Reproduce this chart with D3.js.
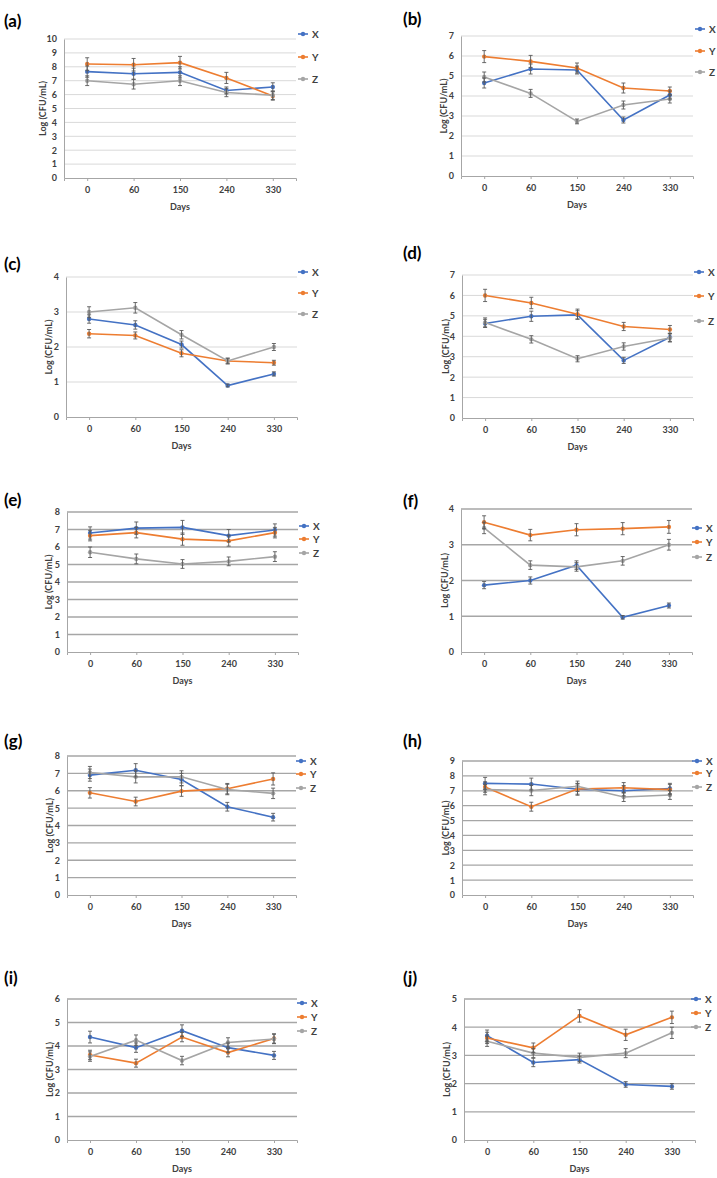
<!DOCTYPE html>
<html><head><meta charset="utf-8">
<script src="https://cdn.jsdelivr.net/npm/d3@7"></script>
<style>
html,body{margin:0;padding:0;background:#fff;}
svg{display:block;}
text{font-family:Lato,"Open Sans",sans-serif;font-weight:bold;}
</style></head>
<body>
<svg id="c" width="717" height="1178"></svg>
<script>
// ---------- DATA ----------
const days = ["0", "60", "150", "240", "330"];
const seriesNames = ["X", "Y", "Z"];
const panelTitles = ["(a)", "(b)", "(c)", "(d)", "(e)", "(f)", "(g)", "(h)", "(i)", "(j)"];
const yMax = [10, 7, 4, 7, 8, 4, 8, 9, 6, 5];

const meansA = [[7.65, 7.5, 7.6, 6.3, 6.55], [8.2, 8.15, 8.3, 7.2, 5.9], [7.0, 6.75, 7.0, 6.15, 5.95]];
const errA   = [[0.4, 0.4, 0.4, 0.25, 0.3], [0.45, 0.45, 0.45, 0.4, 0.3], [0.35, 0.35, 0.35, 0.3, 0.3]];
const meansB = [[4.65, 5.35, 5.3, 2.8, 4.05], [5.97, 5.73, 5.4, 4.4, 4.25], [4.95, 4.13, 2.73, 3.55, 3.85]];
const errB   = [[0.25, 0.25, 0.2, 0.15, 0.2], [0.3, 0.3, 0.25, 0.25, 0.2], [0.25, 0.2, 0.12, 0.2, 0.2]];
const meansC = [[2.8, 2.63, 2.07, 0.9, 1.23], [2.38, 2.33, 1.82, 1.6, 1.55], [3.0, 3.12, 2.35, 1.6, 2.0]];
const errC   = [[0.12, 0.12, 0.1, 0.04, 0.06], [0.12, 0.1, 0.1, 0.08, 0.07], [0.15, 0.15, 0.12, 0.08, 0.1]];
const meansD = [[4.63, 4.98, 5.05, 2.82, 3.95], [6.0, 5.63, 5.08, 4.48, 4.33], [4.68, 3.85, 2.9, 3.5, 3.92]];
const errD   = [[0.2, 0.25, 0.2, 0.15, 0.2], [0.3, 0.28, 0.25, 0.2, 0.2], [0.22, 0.18, 0.15, 0.18, 0.2]];
const meansE = [[6.8, 7.08, 7.12, 6.65, 6.97], [6.65, 6.82, 6.45, 6.35, 6.82], [5.7, 5.32, 5.03, 5.18, 5.45]];
const errE   = [[0.35, 0.35, 0.4, 0.35, 0.35], [0.3, 0.3, 0.35, 0.3, 0.3], [0.3, 0.28, 0.25, 0.25, 0.28]];
const meansF = [[1.87, 2.0, 2.43, 0.97, 1.3], [3.63, 3.27, 3.42, 3.45, 3.5], [3.47, 2.43, 2.38, 2.55, 3.0]];
const errF   = [[0.1, 0.1, 0.12, 0.05, 0.07], [0.18, 0.16, 0.17, 0.17, 0.18], [0.16, 0.12, 0.12, 0.12, 0.15]];
const meansG = [[6.9, 7.18, 6.65, 5.08, 4.48], [5.88, 5.38, 5.98, 6.12, 6.68], [7.05, 6.8, 6.8, 6.07, 5.85]];
const errG   = [[0.35, 0.38, 0.35, 0.25, 0.22], [0.3, 0.25, 0.3, 0.3, 0.35], [0.35, 0.35, 0.35, 0.3, 0.3]];
const meansH = [[7.5, 7.45, 7.1, 7.0, 7.15], [7.25, 5.93, 7.12, 7.2, 7.08], [7.08, 7.02, 7.3, 6.58, 6.72]];
const errH   = [[0.4, 0.4, 0.4, 0.35, 0.35], [0.35, 0.3, 0.35, 0.35, 0.35], [0.35, 0.35, 0.35, 0.3, 0.3]];
const meansI = [[4.38, 3.93, 4.65, 3.93, 3.6], [3.62, 3.27, 4.38, 3.72, 4.32], [3.55, 4.25, 3.38, 4.15, 4.3]];
const errI   = [[0.25, 0.2, 0.25, 0.2, 0.17], [0.2, 0.17, 0.2, 0.18, 0.2], [0.2, 0.22, 0.18, 0.2, 0.2]];
const meansJ = [[3.7, 2.75, 2.85, 1.97, 1.9], [3.62, 3.27, 4.4, 3.73, 4.35], [3.5, 3.08, 2.93, 3.08, 3.8]];
const errJ   = [[0.2, 0.15, 0.12, 0.1, 0.1], [0.2, 0.17, 0.22, 0.2, 0.22], [0.18, 0.16, 0.15, 0.16, 0.2]];

const allMeans = [meansA, meansB, meansC, meansD, meansE, meansF, meansG, meansH, meansI, meansJ];
const allErr = [errA, errB, errC, errD, errE, errF, errG, errH, errI, errJ];

// ---------- LAYOUT / STYLE ----------
const colors = ["#4472C4", "#ED7D31", "#A5A5A5"];
// plot box: x0,y0 (top), x1,y1 (bottom); lx legend x; ly legend ys; tx,ty title; yl y-label x
const layout = [
  {x0: 64, y0: 39, x1: 296, y1: 178, lx: 298, ly: [34, 57, 79], tx: 4, ty: 20, yl: 42, grid: "#d9d9d9"},
  {x0: 461, y0: 36, x1: 693, y1: 176, lx: 695, ly: [29, 51, 72], tx: 403, ty: 18, yl: 443, grid: "#d9d9d9"},
  {x0: 66, y0: 277, x1: 297, y1: 417, lx: 298, ly: [272, 293, 314], tx: 4, ty: 263, yl: 48, grid: "#d9d9d9"},
  {x0: 462, y0: 275, x1: 693, y1: 418, lx: 694, ly: [272, 296, 321], tx: 403, ty: 252, yl: 445, grid: "#d9d9d9"},
  {x0: 67, y0: 512, x1: 298, y1: 652, lx: 299, ly: [526, 539, 553], tx: 4, ty: 499, yl: 48, grid: "#a6a6a6"},
  {x0: 461, y0: 509, x1: 692, y1: 652, lx: 692, ly: [528, 542, 557], tx: 403, ty: 500, yl: 444, grid: "#a6a6a6"},
  {x0: 67, y0: 756, x1: 296, y1: 895, lx: 296, ly: [761, 774, 788], tx: 4, ty: 740, yl: 49, grid: "#a6a6a6"},
  {x0: 462, y0: 761, x1: 693, y1: 895, lx: 692, ly: [761, 773, 787], tx: 403, ty: 740, yl: 445, grid: "#a6a6a6"},
  {x0: 67, y0: 999, x1: 297, y1: 1140, lx: 297, ly: [1003, 1017, 1031], tx: 4, ty: 977, yl: 49, grid: "#a6a6a6"},
  {x0: 464, y0: 999, x1: 695, y1: 1140, lx: 691, ly: [999, 1013, 1027], tx: 403, ty: 977, yl: 446, grid: "#a6a6a6"}
];

const svg = d3.select("#c");

layout.forEach((L, i) => {
  const g = svg.append("g");
  const x = d3.scalePoint().domain(days).range([L.x0, L.x1]).padding(0.5);
  const y = d3.scaleLinear().domain([0, yMax[i]]).range([L.y1, L.y0]);
  const ticks = d3.range(0, yMax[i] + 1);

  // title
  g.append("text").attr("x", L.tx).attr("y", L.ty).attr("dominant-baseline", "central")
    .attr("font-size", 17).attr("fill", "#000").text(panelTitles[i]);

  // gridlines
  g.selectAll(".grid").data(ticks.slice(1)).join("line")
    .attr("x1", L.x0).attr("x2", L.x1)
    .attr("y1", d => y(d)).attr("y2", d => y(d))
    .attr("stroke", L.grid).attr("stroke-width", i >= 4 ? 1.3 : 1);

  // y axis
  const ya = g.append("g").attr("transform", `translate(${L.x0},0)`)
    .call(d3.axisLeft(y).tickValues(ticks).tickSize(0).tickPadding(7).tickFormat(d3.format("d")));
  ya.select(".domain").attr("stroke", "#a6a6a6");
  ya.selectAll("text").attr("font-size", 9).attr("fill", "#404040")
    .attr("font-family", "Lato, sans-serif").attr("font-weight", "bold");

  // x axis
  const xa = g.append("g").attr("transform", `translate(0,${L.y1})`)
    .call(d3.axisBottom(x).tickSize(3).tickSizeOuter(3).tickPadding(6));
  xa.select(".domain").attr("stroke", "#a6a6a6");
  xa.selectAll("line").attr("stroke", "#a6a6a6");
  xa.selectAll("text").attr("font-size", 9).attr("fill", "#404040")
    .attr("font-family", "Lato, sans-serif").attr("font-weight", "bold");

  // axis titles
  g.append("text").attr("x", (L.x0 + L.x1) / 2).attr("y", L.y1 + 28)
    .attr("text-anchor", "middle").attr("dominant-baseline", "central")
    .attr("font-size", 9).attr("fill", "#404040").text("Days");
  g.append("text")
    .attr("transform", `translate(${L.yl},${(L.y0 + L.y1) / 2}) rotate(-90)`)
    .attr("text-anchor", "middle").attr("dominant-baseline", "central")
    .attr("font-size", 9).attr("fill", "#404040").text("Log (CFU/mL)");

  // series
  const line = d3.line().x((d, j) => x(days[j])).y(d => y(d));
  allMeans[i].forEach((vals, s) => {
    g.append("path").attr("d", line(vals)).attr("fill", "none")
      .attr("stroke", colors[s]).attr("stroke-width", 1.6);
    g.selectAll(null).data(vals).join("circle")
      .attr("cx", (d, j) => x(days[j])).attr("cy", d => y(d)).attr("r", 2.2)
      .attr("fill", colors[s]);
  });
  // error bars
  allMeans[i].forEach((vals, s) => {
    const errs = allErr[i][s];
    vals.forEach((v, j) => {
      const cx = x(days[j]);
      const e = errs[j];
      const eg = g.append("g").attr("stroke", "#595959").attr("stroke-width", 0.9);
      eg.append("line").attr("x1", cx).attr("x2", cx).attr("y1", y(v + e)).attr("y2", y(v - e));
      eg.append("line").attr("x1", cx - 2).attr("x2", cx + 2).attr("y1", y(v + e)).attr("y2", y(v + e));
      eg.append("line").attr("x1", cx - 2).attr("x2", cx + 2).attr("y1", y(v - e)).attr("y2", y(v - e));
    });
  });

  // legend
  seriesNames.forEach((name, s) => {
    const ly = L.ly[s];
    g.append("line").attr("x1", L.lx).attr("x2", L.lx + 10).attr("y1", ly).attr("y2", ly)
      .attr("stroke", colors[s]).attr("stroke-width", 1.6);
    g.append("circle").attr("cx", L.lx + 5).attr("cy", ly).attr("r", 2.2).attr("fill", colors[s]);
    g.append("text").attr("x", L.lx + 14).attr("y", ly).attr("dominant-baseline", "central")
      .attr("font-size", 10).attr("fill", "#404040").text(name);
  });
});
</script>
</body></html>
